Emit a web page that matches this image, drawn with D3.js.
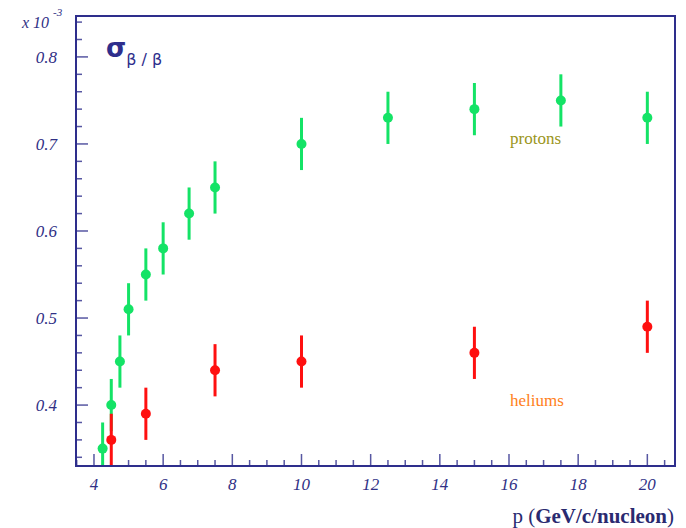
<!DOCTYPE html>
<html>
<head>
  <meta charset="utf-8">
  <title>sigma beta</title>
  <style>
    * { margin: 0; padding: 0; }
    body { background: #fff; }
    .tick-label { font-family: "Liberation Serif", serif; font-style: italic; font-size: 17px; fill: #303085; }
  </style>
</head>
<body>
  <svg id="svg"></svg>
  <script src="https://cdnjs.cloudflare.com/ajax/libs/d3/7.8.5/d3.min.js"></script>
  <script>
    const W = 686, H = 528
    const frame = { left: 76, right: 675, top: 16, bottom: 466 }
    const navy = '#2e2e8c'

    // data
    const protonP = [4.25, 4.5, 4.75, 5.0, 5.5, 6.0, 6.75, 7.5, 10, 12.5, 15, 17.5, 20]
    const protonSigma = [0.35, 0.40, 0.45, 0.51, 0.55, 0.58, 0.62, 0.65, 0.70, 0.73, 0.74, 0.75, 0.73]
    const protonErr = [0.03, 0.03, 0.03, 0.03, 0.03, 0.03, 0.03, 0.03, 0.03, 0.03, 0.03, 0.03, 0.03]
    const heliumP = [4.5, 5.5, 7.5, 10, 15, 20]
    const heliumSigma = [0.36, 0.39, 0.44, 0.45, 0.46, 0.49]
    const heliumErr = [0.03, 0.03, 0.03, 0.03, 0.03, 0.03]
    const xTicks = [4, 6, 8, 10, 12, 14, 16, 18, 20]
    const yTicks = [0.4, 0.5, 0.6, 0.7, 0.8]

    const svg = d3.select('#svg').attr('width', W).attr('height', H)

    const x = d3.scaleLinear().domain([3.48, 20.8]).range([frame.left, frame.right])
    const y = d3.scaleLinear().domain([0.33, 0.847]).range([frame.bottom, frame.top])

    svg.append('clipPath').attr('id', 'plot')
      .append('rect')
      .attr('x', frame.left).attr('y', frame.top)
      .attr('width', frame.right - frame.left).attr('height', frame.bottom - frame.top)

    // minor ticks (inward)
    const xMinor = d3.range(3.5, 20.8, 0.5).filter(v => !xTicks.includes(v))
    const yMinor = d3.range(0.34, 0.845, 0.02).map(v => +v.toFixed(2)).filter(v => !yTicks.includes(v))

    const ticks = svg.append('g').attr('stroke', navy).attr('stroke-width', 1.5).attr('opacity', 0.8)
    ticks.selectAll('.xmin').data(xMinor).enter().append('line')
      .attr('x1', d => x(d)).attr('x2', d => x(d))
      .attr('y1', frame.bottom).attr('y2', frame.bottom - 6)
    ticks.selectAll('.xmaj').data(xTicks).enter().append('line')
      .attr('x1', d => x(d)).attr('x2', d => x(d))
      .attr('y1', frame.bottom).attr('y2', frame.bottom - 12)
    ticks.selectAll('.ymin').data(yMinor).enter().append('line')
      .attr('y1', d => y(d)).attr('y2', d => y(d))
      .attr('x1', frame.left).attr('x2', frame.left + 6)
    ticks.selectAll('.ymaj').data(yTicks).enter().append('line')
      .attr('y1', d => y(d)).attr('y2', d => y(d))
      .attr('x1', frame.left).attr('x2', frame.left + 12)

    // tick labels
    svg.append('g').selectAll('text').data(xTicks).enter().append('text')
      .attr('class', 'tick-label')
      .attr('x', d => x(d)).attr('y', 490)
      .attr('text-anchor', 'middle')
      .text(d => d)
    svg.append('g').selectAll('text').data(yTicks).enter().append('text')
      .attr('class', 'tick-label')
      .attr('x', 57).attr('y', d => y(d) + 6)
      .attr('text-anchor', 'end')
      .text(d => d.toFixed(1))

    // exponent
    const ex = svg.append('text').attr('class', 'tick-label').attr('x', 22).attr('y', 28).style('font-size', '16px')
    ex.append('tspan').text('x 10')
    ex.append('tspan').attr('dx', 4).attr('dy', -12).style('font-size', '11px').text('-3')

    // data series
    function drawSeries(ps, vals, errs, color) {
      const data = ps.map((p, i) => ({ p, v: vals[i], e: errs[i] }))
      const g = svg.append('g').attr('clip-path', 'url(#plot)')
      g.selectAll('line').data(data).enter().append('line')
        .attr('x1', d => x(d.p)).attr('x2', d => x(d.p))
        .attr('y1', d => y(d.v - d.e)).attr('y2', d => y(d.v + d.e))
        .attr('stroke', color).attr('stroke-width', 3)
      g.selectAll('circle').data(data).enter().append('circle')
        .attr('cx', d => x(d.p)).attr('cy', d => y(d.v))
        .attr('r', 5).attr('fill', color)
    }
    drawSeries(protonP, protonSigma, protonErr, '#14e366')
    drawSeries(heliumP, heliumSigma, heliumErr, '#ff1010')

    // frame
    svg.append('rect')
      .attr('x', frame.left).attr('y', frame.top)
      .attr('width', frame.right - frame.left).attr('height', frame.bottom - frame.top)
      .attr('fill', 'none').attr('stroke', navy).attr('stroke-width', 2)

    // labels
    svg.append('text').attr('x', 510).attr('y', 144)
      .style('font-family', '"Liberation Serif", serif').style('font-size', '17px')
      .attr('fill', '#9a9520').text('protons')
    svg.append('text').attr('x', 510).attr('y', 406)
      .style('font-family', '"Liberation Serif", serif').style('font-size', '17px')
      .attr('fill', '#ff8020').text('heliums')

    const sig = svg.append('text').attr('x', 106).attr('y', 57)
      .style('font-family', '"DejaVu Sans", sans-serif').attr('fill', navy)
    sig.append('tspan').style('font-size', '26px').style('font-weight', 'bold').text('σ')
    sig.append('tspan').attr('dy', 8).style('font-size', '16px').text('β / β')

    const xt = svg.append('text').attr('x', 674).attr('y', 523).attr('text-anchor', 'end')
      .style('font-family', '"Liberation Serif", serif').style('font-size', '21px').attr('fill', '#2a2a70')
    xt.append('tspan').text('p (')
    xt.append('tspan').style('font-weight', 'bold').text('GeV/c/nucleon')
    xt.append('tspan').text(')')
  </script>
</body>
</html>
